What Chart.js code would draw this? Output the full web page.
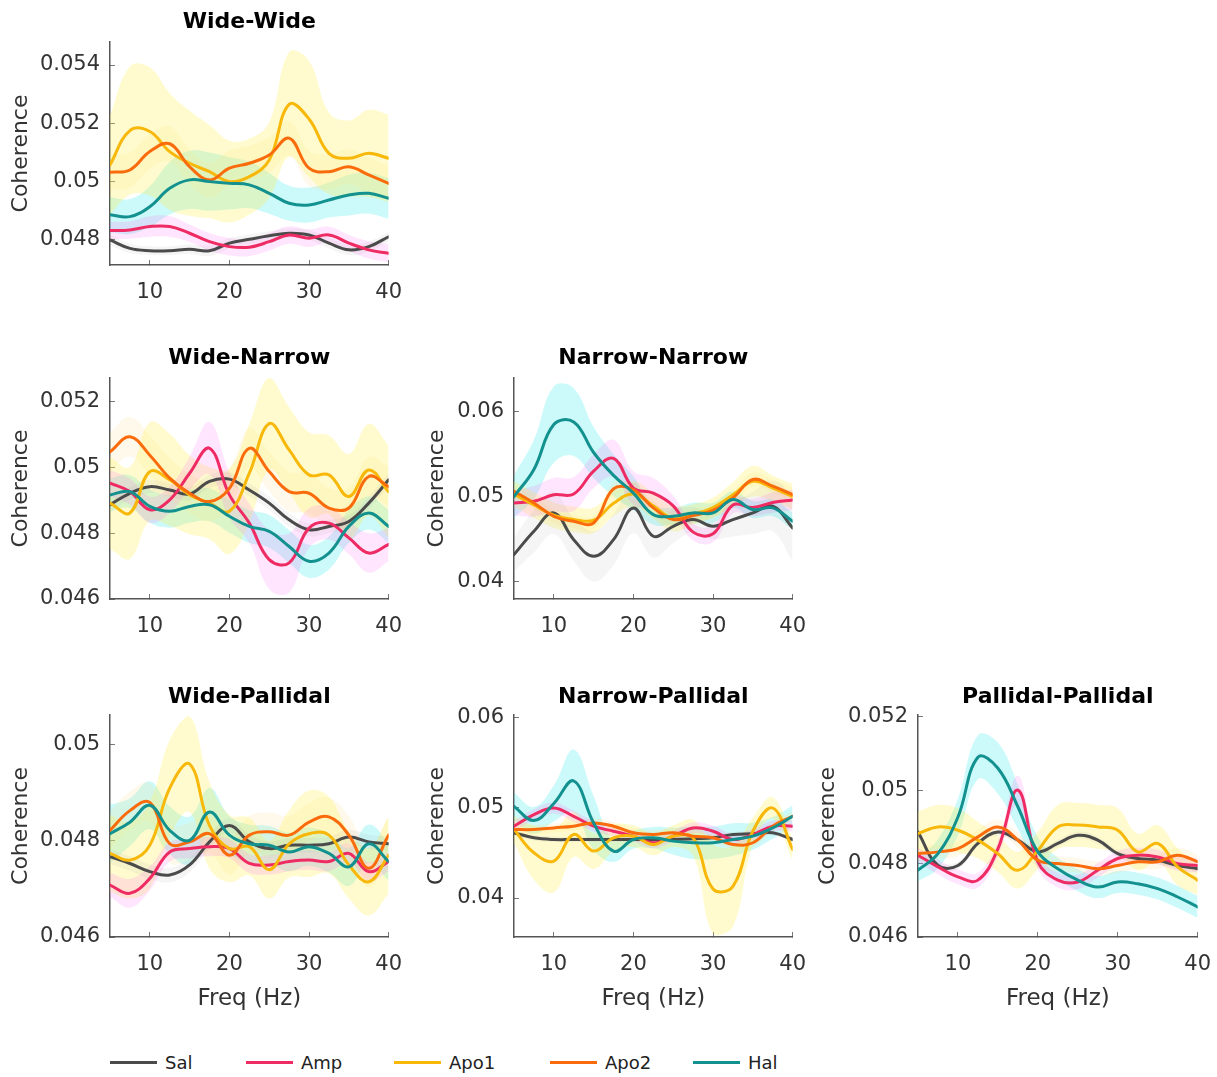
<!DOCTYPE html>
<html><head><meta charset="utf-8">
<script src="https://cdn.jsdelivr.net/npm/chart.js@4"></script>
<style>
html,body{margin:0;padding:0;background:#fff;}
body{width:1217px;height:1077px;position:relative;overflow:hidden;font-family:'DejaVu Sans',sans-serif;}
canvas{position:absolute;}
.lg{position:absolute;top:1050px;height:24px;display:flex;align-items:center;font-size:18px;color:#222;}
.lg span.sw{display:inline-block;width:47px;height:3px;margin-right:8px;}
</style></head><body>
<canvas id="c_ww"></canvas>
<canvas id="c_wn"></canvas>
<canvas id="c_nn"></canvas>
<canvas id="c_wp"></canvas>
<canvas id="c_np"></canvas>
<canvas id="c_pp"></canvas>
<div id="legend"></div>
<script>
// ---------- data ----------
const freq = [5,7.5,10,12.5,15,17.5,20,22.5,25,27.5,30,32.5,35,37.5,40];
const xTicks = [10,20,30,40];
const seriesNames = ['Sal','Amp','Apo1','Apo2','Hal'];

// Wide-Wide
const ww_yTicks = [0.048,0.05,0.052,0.054];
const ww_sal  = [0.04800,0.04771,0.04763,0.04763,0.04768,0.04763,0.04789,0.04802,0.04814,0.04823,0.04817,0.04789,0.04766,0.04777,0.04811];
const ww_amp  = [0.04832,0.04834,0.04846,0.04846,0.04823,0.04794,0.04777,0.04775,0.04794,0.04817,0.04806,0.04817,0.04789,0.04766,0.04754];
const ww_apo1 = [0.05057,0.05175,0.05172,0.05103,0.05063,0.05034,0.05000,0.05017,0.05074,0.05265,0.05215,0.05097,0.05080,0.05097,0.05080];
const ww_apo2 = [0.05032,0.05040,0.05103,0.05130,0.05051,0.05006,0.05046,0.05063,0.05091,0.05149,0.05046,0.05034,0.05051,0.05023,0.04994];
const ww_hal  = [0.04886,0.04880,0.04914,0.04977,0.05006,0.05000,0.04994,0.04989,0.04960,0.04926,0.04920,0.04937,0.04954,0.04960,0.04943];
const ww_sal_e  = [0.00018,0.00016,0.00015,0.00015,0.00016,0.00018,0.00018,0.00017,0.00016,0.00016,0.00017,0.00018,0.00018,0.00017,0.00016];
const ww_amp_e  = [0.0003,0.0003,0.00035,0.00035,0.0003,0.0003,0.0003,0.0003,0.0003,0.0003,0.0003,0.00028,0.00028,0.0003,0.0003];
const ww_apo1_e = [0.0017,0.0022,0.0022,0.0020,0.0018,0.0016,0.0014,0.0013,0.0013,0.0018,0.0020,0.0014,0.0013,0.0015,0.0015];
const ww_apo2_e = [0.0006,0.0006,0.0006,0.0006,0.0006,0.0006,0.0006,0.0006,0.0006,0.0006,0.0006,0.0006,0.0006,0.0006,0.0006];
const ww_hal_e  = [0.0006,0.0006,0.0007,0.0009,0.0010,0.0010,0.0009,0.0008,0.0007,0.0006,0.0006,0.0006,0.0007,0.0007,0.0007];

// Wide-Narrow
const wn_yTicks = [0.046,0.048,0.05,0.052];
const wn_sal  = [0.04887,0.04922,0.04942,0.04932,0.04920,0.04958,0.04965,0.04932,0.04892,0.04841,0.04811,0.04821,0.04836,0.04892,0.04963];
const wn_amp  = [0.04953,0.04927,0.04872,0.04902,0.04983,0.05059,0.04917,0.04831,0.04720,0.04710,0.04816,0.04831,0.04786,0.04740,0.04766];
const wn_apo1 = [0.04892,0.04862,0.04988,0.04963,0.04917,0.04892,0.04867,0.04983,0.05134,0.05054,0.04978,0.04978,0.04912,0.04993,0.04927];
const wn_apo2 = [0.05048,0.05094,0.05038,0.04968,0.04922,0.04897,0.04937,0.05059,0.04988,0.04927,0.04922,0.04877,0.04877,0.04973,0.04942];
const wn_hal  = [0.04917,0.04927,0.04882,0.04867,0.04882,0.04887,0.04852,0.04821,0.04806,0.04760,0.04715,0.04740,0.04821,0.04862,0.04821];
const wn_sal_e  = [0.0002,0.0002,0.0002,0.0002,0.0002,0.0002,0.0002,0.0002,0.0002,0.0002,0.0002,0.0002,0.0002,0.0002,0.0002];
const wn_amp_e  = [0.0004,0.0004,0.0004,0.0004,0.0005,0.0008,0.0007,0.0006,0.0009,0.0009,0.0006,0.0005,0.0005,0.0006,0.0005];
const wn_apo1_e = [0.0014,0.0014,0.0015,0.0014,0.0012,0.0011,0.0013,0.0015,0.0014,0.0013,0.0013,0.0012,0.0013,0.0014,0.0014];
const wn_apo2_e = [0.0006,0.0006,0.0006,0.0006,0.0006,0.0006,0.0006,0.0006,0.0006,0.0006,0.0006,0.0006,0.0006,0.0006,0.0006];
const wn_hal_e  = [0.0005,0.0005,0.0005,0.0005,0.0005,0.0005,0.0005,0.0005,0.0005,0.0005,0.0005,0.0005,0.0005,0.0005,0.0005];

// Narrow-Narrow
const nn_yTicks = [0.04,0.05,0.06];
const nn_sal  = [0.04314,0.04590,0.04807,0.04491,0.04294,0.04491,0.04866,0.04531,0.04649,0.04728,0.04649,0.04728,0.04807,0.04886,0.04629];
const nn_amp  = [0.04925,0.04945,0.05020,0.05030,0.05300,0.05450,0.05100,0.05040,0.04890,0.04580,0.04560,0.04900,0.04870,0.04930,0.04960];
const nn_apo1 = [0.05030,0.04900,0.04780,0.04730,0.04720,0.04920,0.05030,0.04890,0.04740,0.04790,0.04870,0.05020,0.05180,0.05100,0.05000];
const nn_apo2 = [0.05063,0.04925,0.04767,0.04708,0.04688,0.05090,0.05080,0.04866,0.04728,0.04775,0.04838,0.04984,0.05201,0.05122,0.05024];
const nn_hal  = [0.05000,0.05320,0.05850,0.05880,0.05520,0.05250,0.05040,0.04787,0.04767,0.04807,0.04807,0.04964,0.04846,0.04866,0.04708];
const nn_sal_e  = [0.0020,0.0025,0.0025,0.0025,0.0030,0.0030,0.0030,0.0025,0.0020,0.0015,0.0015,0.0020,0.0025,0.0030,0.0040];
const nn_amp_e  = [0.0015,0.0018,0.0020,0.0020,0.0020,0.0022,0.0020,0.0018,0.0012,0.0010,0.0010,0.0010,0.0010,0.0012,0.0012];
const nn_apo1_e = [0.0015,0.0015,0.0015,0.0015,0.0015,0.0015,0.0015,0.0015,0.0015,0.0012,0.0012,0.0015,0.0018,0.0015,0.0015];
const nn_apo2_e = [0.0008,0.0008,0.0008,0.0008,0.0008,0.0008,0.0008,0.0008,0.0008,0.0008,0.0008,0.0008,0.0008,0.0008,0.0008];
const nn_hal_e  = [0.0025,0.0035,0.0045,0.0040,0.0030,0.0025,0.0020,0.0012,0.0010,0.0012,0.0012,0.0010,0.0010,0.0010,0.0010];

// Wide-Pallidal
const wp_yTicks = [0.046,0.048,0.05];
const wp_sal  = [0.04767,0.04753,0.04736,0.04729,0.04750,0.04798,0.04832,0.04798,0.04784,0.04791,0.04791,0.04794,0.04808,0.04798,0.04794];
const wp_amp  = [0.04708,0.04691,0.04722,0.04777,0.04784,0.04788,0.04784,0.04753,0.04750,0.04757,0.04760,0.04757,0.04774,0.04736,0.04757];
const wp_apo1 = [0.04774,0.04760,0.04791,0.04910,0.04960,0.04832,0.04784,0.04788,0.04740,0.04794,0.04815,0.04812,0.04750,0.04715,0.04770];
const wp_apo2 = [0.04822,0.04863,0.04880,0.04794,0.04798,0.04815,0.04770,0.04812,0.04819,0.04812,0.04839,0.04850,0.04812,0.04743,0.04812];
const wp_hal  = [0.04815,0.04839,0.04874,0.04822,0.04801,0.04860,0.04812,0.04794,0.04791,0.04777,0.04788,0.04774,0.04746,0.04794,0.04757];
const wp_sal_e  = [0.00015,0.00015,0.00015,0.00015,0.00015,0.00015,0.00015,0.00015,0.00015,0.00015,0.00015,0.00015,0.00015,0.00015,0.00015];
const wp_amp_e  = [0.00025,0.0003,0.00025,0.0002,0.0002,0.0002,0.0002,0.0002,0.0002,0.0002,0.0002,0.0002,0.0002,0.0002,0.0002];
const wp_apo1_e = [0.0008,0.0008,0.0009,0.0010,0.0010,0.0009,0.0007,0.0006,0.0006,0.0007,0.0009,0.0008,0.0007,0.0007,0.0008];
const wp_apo2_e = [0.0004,0.0004,0.0004,0.0004,0.0004,0.0004,0.0004,0.0004,0.0004,0.0004,0.0004,0.0004,0.0004,0.0004,0.0004];
const wp_hal_e  = [0.0006,0.0005,0.0005,0.0005,0.0005,0.0005,0.0004,0.0004,0.0004,0.0004,0.0004,0.0004,0.0004,0.0004,0.0004];

// Narrow-Pallidal
const np_yTicks = [0.04,0.05,0.06];
const np_sal  = [0.04724,0.04669,0.04650,0.04650,0.04650,0.04650,0.04650,0.04650,0.04650,0.04658,0.04669,0.04706,0.04713,0.04724,0.04650];
const np_amp  = [0.04798,0.04926,0.05000,0.04908,0.04798,0.04742,0.04687,0.04614,0.04687,0.04779,0.04742,0.04650,0.04706,0.04798,0.04798];
const np_apo1 = [0.04761,0.04503,0.04411,0.04706,0.04522,0.04669,0.04687,0.04595,0.04687,0.04669,0.04100,0.04130,0.04742,0.05000,0.04540];
const np_apo2 = [0.04761,0.04761,0.04779,0.04798,0.04834,0.04798,0.04724,0.04706,0.04724,0.04687,0.04669,0.04595,0.04614,0.04798,0.04908];
const np_hal  = [0.05018,0.04860,0.05050,0.05300,0.04834,0.04520,0.04650,0.04669,0.04632,0.04614,0.04614,0.04650,0.04687,0.04779,0.04908];
const np_sal_e  = [0.0003,0.0003,0.0003,0.0003,0.0003,0.0003,0.0003,0.0003,0.0003,0.0003,0.0003,0.0003,0.0003,0.0003,0.0003];
const np_amp_e  = [0.0006,0.0006,0.0006,0.0006,0.0006,0.0006,0.0006,0.0006,0.0006,0.0006,0.0006,0.0006,0.0006,0.0006,0.0006];
const np_apo1_e = [0.0015,0.0030,0.0035,0.0025,0.0020,0.0015,0.0012,0.0012,0.0012,0.0020,0.0050,0.0045,0.0015,0.0012,0.0012];
const np_apo2_e = [0.0005,0.0005,0.0005,0.0005,0.0005,0.0005,0.0005,0.0005,0.0005,0.0005,0.0005,0.0005,0.0005,0.0005,0.0005];
const np_hal_e  = [0.0015,0.0015,0.0020,0.0035,0.0030,0.0012,0.0010,0.0012,0.0015,0.0018,0.0018,0.0018,0.0015,0.0012,0.0012];

// Pallidal-Pallidal
const pp_yTicks = [0.046,0.048,0.05,0.052];
const pp_sal  = [0.04886,0.04795,0.04795,0.04855,0.04886,0.04864,0.04832,0.04855,0.04877,0.04864,0.04827,0.04814,0.04809,0.04795,0.04786];
const pp_amp  = [0.04823,0.04791,0.04764,0.04755,0.04840,0.05000,0.04805,0.04755,0.04750,0.04782,0.04814,0.04823,0.04818,0.04800,0.04795];
const pp_apo1 = [0.04882,0.04900,0.04891,0.04864,0.04827,0.04782,0.04836,0.04900,0.04905,0.04900,0.04891,0.04832,0.04855,0.04791,0.04755];
const pp_apo2 = [0.04827,0.04832,0.04841,0.04873,0.04900,0.04864,0.04809,0.04800,0.04795,0.04786,0.04795,0.04805,0.04805,0.04823,0.04805];
const pp_hal  = [0.04782,0.04827,0.04927,0.05090,0.05060,0.04955,0.04832,0.04786,0.04755,0.04736,0.04750,0.04745,0.04732,0.04709,0.04682];
const pp_sal_e  = [0.0001,0.0001,0.0001,0.0001,0.0001,0.0001,0.0001,0.0001,0.0001,0.0001,0.0001,0.0001,0.0001,0.0001,0.0001];
const pp_amp_e  = [0.0002,0.0002,0.0002,0.0002,0.0002,0.0004,0.0002,0.0002,0.0002,0.0002,0.0002,0.0002,0.0002,0.0002,0.0002];
const pp_apo1_e = [0.0006,0.0006,0.0006,0.0005,0.0005,0.0005,0.0005,0.0006,0.0006,0.0006,0.0006,0.0005,0.0005,0.0005,0.0004];
const pp_apo2_e = [0.0002,0.0002,0.0002,0.0002,0.0002,0.0002,0.0002,0.0002,0.0002,0.0002,0.0002,0.0002,0.0002,0.0002,0.0002];
const pp_hal_e  = [0.0003,0.0004,0.0005,0.0006,0.0007,0.0006,0.0004,0.0003,0.0003,0.0003,0.0003,0.0003,0.0003,0.0003,0.0003];

// ---------- styles & layout ----------
const lineColors = ['#4b4b4b','#ef2b63','#f8b80a','#fa6b0c','#12918f'];
const bandColors = ['rgba(160,160,160,0.10)','rgba(255,110,245,0.18)','rgba(255,240,80,0.28)','rgba(255,215,120,0.15)','rgba(40,232,232,0.24)'];
const FONT = 'DejaVu Sans';

const panels = [
  {id:'c_ww', title:'Wide-Wide', yTicks:ww_yTicks, yMin:0.04714, yMax:0.05479,
   means:[ww_sal,ww_amp,ww_apo1,ww_apo2,ww_hal], errs:[ww_sal_e,ww_amp_e,ww_apo1_e,ww_apo2_e,ww_hal_e],
   box:{left:0, top:5, w:422, h:300}, yW:110, xH:40, padR:22, tPadB:6.6, xTitle:false},
  {id:'c_wn', title:'Wide-Narrow', yTicks:wn_yTicks, yMin:0.046, yMax:0.05273,
   means:[wn_sal,wn_amp,wn_apo1,wn_apo2,wn_hal], errs:[wn_sal_e,wn_amp_e,wn_apo1_e,wn_apo2_e,wn_hal_e],
   box:{left:0, top:341, w:422, h:298}, yW:110, xH:40, padR:22, tPadB:6.6, xTitle:false},
  {id:'c_nn', title:'Narrow-Narrow', yTicks:nn_yTicks, yMin:0.0379, yMax:0.0640,
   means:[nn_sal,nn_amp,nn_apo1,nn_apo2,nn_hal], errs:[nn_sal_e,nn_amp_e,nn_apo1_e,nn_apo2_e,nn_hal_e],
   box:{left:416, top:341, w:410, h:298}, yW:98, xH:40, padR:22, tPadB:6.6, xTitle:false},
  {id:'c_wp', title:'Wide-Pallidal', yTicks:wp_yTicks, yMin:0.046, yMax:0.05062,
   means:[wp_sal,wp_amp,wp_apo1,wp_apo2,wp_hal], errs:[wp_sal_e,wp_amp_e,wp_apo1_e,wp_apo2_e,wp_hal_e],
   box:{left:0, top:680, w:422, h:335}, yW:110, xH:78, padR:22, tPadB:4.6, xTitle:true},
  {id:'c_np', title:'Narrow-Pallidal', yTicks:np_yTicks, yMin:0.03567, yMax:0.06033,
   means:[np_sal,np_amp,np_apo1,np_apo2,np_hal], errs:[np_sal_e,np_amp_e,np_apo1_e,np_apo2_e,np_hal_e],
   box:{left:416, top:680, w:410, h:335}, yW:98, xH:78, padR:22, tPadB:4.6, xTitle:true},
  {id:'c_pp', title:'Pallidal-Pallidal', yTicks:pp_yTicks, yMin:0.046, yMax:0.05205,
   means:[pp_sal,pp_amp,pp_apo1,pp_apo2,pp_hal], errs:[pp_sal_e,pp_amp_e,pp_apo1_e,pp_apo2_e,pp_hal_e],
   box:{left:807, top:680, w:424, h:335}, yW:111, xH:78, padR:19, tPadB:4.6, xTitle:true}
];

function fmt(v){ return String(+Number(v).toFixed(4)); }

function makeChart(p){
  const cv = document.getElementById(p.id);
  cv.width = p.box.w; cv.height = p.box.h;
  cv.style.left = p.box.left + 'px'; cv.style.top = p.box.top + 'px';
  cv.style.width = p.box.w + 'px'; cv.style.height = p.box.h + 'px';
  const datasets = [];
  seriesNames.forEach((name, i) => {
    const m = p.means[i], e = p.errs[i];
    datasets.push({label: name + ' upper', data: freq.map((f, j) => ({x: f, y: m[j] + e[j]})),
      fill: '+1', backgroundColor: bandColors[i], borderColor: 'transparent', borderWidth: 0,
      pointRadius: 0, tension: 0.4, order: 30 + i});
    datasets.push({label: name + ' lower', data: freq.map((f, j) => ({x: f, y: m[j] - e[j]})),
      fill: false, borderColor: 'transparent', borderWidth: 0,
      pointRadius: 0, tension: 0.4, order: 30 + i});
  });
  seriesNames.forEach((name, i) => {
    datasets.push({label: name, data: freq.map((f, j) => ({x: f, y: p.means[i][j]})),
      fill: false, borderColor: lineColors[i], borderWidth: 3, pointRadius: 0,
      tension: 0.4, order: 10 - i, borderCapStyle: 'round', borderJoinStyle: 'round'});
  });
  return new Chart(cv, {
    type: 'line',
    data: {datasets},
    options: {
      responsive: false, animation: false, devicePixelRatio: 1,
      layout: {padding: {left: 0, right: p.padR, top: 0, bottom: 0}},
      plugins: {
        legend: {display: false}, tooltip: {enabled: false},
        title: {display: true, text: p.title, fullSize: false, color: '#000',
          font: {family: FONT, size: 22, weight: 'bold', lineHeight: 1.2},
          padding: {top: 4, bottom: p.tPadB}}
      },
      scales: {
        x: {type: 'linear', min: 5, max: 40,
          afterBuildTicks: s => { s.ticks = xTicks.map(v => ({value: v})); },
          afterFit: s => { s.height = p.xH; },
          grid: {display: true, drawOnChartArea: false, drawTicks: true, tickLength: -5, color: '#777', lineWidth: 1},
          border: {display: true, color: '#555', width: 1.5},
          ticks: {font: {family: FONT, size: 21}, color: '#333', padding: 20, maxRotation: 0, autoSkip: false},
          title: {display: p.xTitle, text: 'Freq (Hz)', color: '#333',
            font: {family: FONT, size: 23, lineHeight: 1.2}, padding: {top: 0, bottom: 2}}
        },
        y: {type: 'linear', min: p.yMin, max: p.yMax,
          afterBuildTicks: s => { s.ticks = p.yTicks.map(v => ({value: v})); },
          afterFit: s => { s.width = p.yW; },
          grid: {display: true, drawOnChartArea: false, drawTicks: true, tickLength: -5, color: '#777', lineWidth: 1},
          border: {display: true, color: '#555', width: 1.5},
          ticks: {font: {family: FONT, size: 21}, color: '#333', padding: 15, callback: v => fmt(v)},
          title: {display: true, text: 'Coherence', color: '#333',
            font: {family: FONT, size: 22, lineHeight: 1.2}, padding: {top: 8, bottom: 0}}
        }
      }
    }
  });
}
panels.forEach(makeChart);

// legend
const legendX = [110, 246, 394, 550, 693];
const lg = document.getElementById('legend');
seriesNames.forEach((name, i) => {
  const d = document.createElement('div');
  d.className = 'lg';
  d.style.left = legendX[i] + 'px';
  const sw = document.createElement('span');
  sw.className = 'sw'; sw.style.background = lineColors[i];
  const t = document.createElement('span');
  t.textContent = name;
  d.appendChild(sw); d.appendChild(t);
  lg.appendChild(d);
});
</script>
</body></html>
